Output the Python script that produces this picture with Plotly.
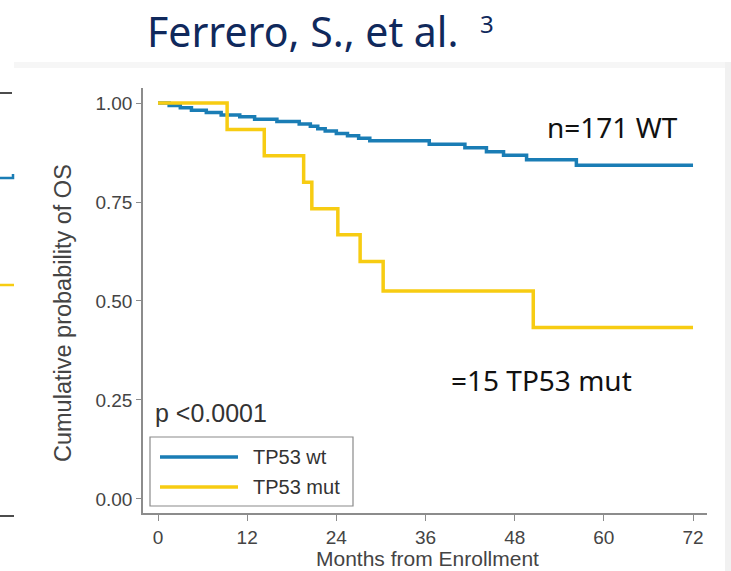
import plotly.graph_objects as go

# ---------------- data ----------------
wt_months = [0, 1.5, 3, 4.5, 6.5, 8.5, 11, 13, 16, 19, 20.5, 21.5, 22.5, 24, 25.5, 27, 28.5,
             36.5, 41.3, 44.2, 46.5, 49.6, 56.3, 72]
wt_surv = [1.0, 0.994, 0.988, 0.982, 0.976, 0.970, 0.965, 0.959, 0.953, 0.947, 0.941, 0.935,
           0.929, 0.923, 0.917, 0.911, 0.905, 0.896, 0.887, 0.877, 0.868, 0.857, 0.843, 0.843]

mut_months = [0, 9.3, 14.3, 19.6, 20.7, 24.2, 27.2, 30.3, 50.5, 72]
mut_surv = [1.0, 0.933, 0.867, 0.800, 0.733, 0.667, 0.600, 0.525, 0.433, 0.433]

series_names = ["TP53 wt", "TP53 mut"]
y_ticks = [0, 0.25, 0.5, 0.75, 1.0]
y_ticktext = ["0.00", "0.25", "0.50", "0.75", "1.00"]
x_ticks = [0, 12, 24, 36, 48, 60, 72]

# ---------------- style ----------------
BLUE = "#1a7db5"
YELLOW = "#f7cc12"
AXIS = "#8c8c8c"
TXT = "#444444"
FONT = "Liberation Sans, Arial, sans-serif"

W, H = 731, 571
L, R, T, B = 143, 707, 88, 513


def px(x):
    return (x - L) / (R - L)


def py(y):
    return (B - y) / (B - T)


fig = go.Figure()
fig.add_trace(go.Scatter(x=wt_months, y=wt_surv, mode="lines", name=series_names[0],
                         line=dict(color=BLUE, width=3.5, shape="hv"), showlegend=False))
fig.add_trace(go.Scatter(x=mut_months, y=mut_surv, mode="lines", name=series_names[1],
                         line=dict(color=YELLOW, width=3.5, shape="hv"), showlegend=False))

fig.update_layout(
    width=W, height=H,
    margin=dict(l=L, r=W - R, t=T, b=H - B, pad=0),
    paper_bgcolor="white", plot_bgcolor="white",
    font=dict(family=FONT, color=TXT),
)
fig.update_xaxes(range=[-2.02, 73.88], tickvals=x_ticks, showgrid=False, zeroline=False,
                 showline=True, linecolor=AXIS, linewidth=1.5, ticks="outside", ticklen=6,
                 tickcolor=AXIS, tickwidth=1.2, tickfont=dict(size=19, color=TXT, family=FONT))
fig.update_yaxes(range=[-0.0354, 1.0379], tickvals=y_ticks, ticktext=y_ticktext, showgrid=False,
                 zeroline=False, showline=True, linecolor=AXIS, linewidth=1.5, ticks="outside",
                 ticklen=5, tickcolor=AXIS, tickwidth=1.2,
                 tickfont=dict(size=19, color=TXT, family=FONT))

shapes = []
anns = []

# faint frame of the pasted picture
shapes.append(dict(type="rect", xref="paper", yref="paper", x0=px(14), x1=px(731), y0=py(62),
                   y1=py(68), fillcolor="#f6f6f6", line=dict(width=0), layer="below"))
shapes.append(dict(type="rect", xref="paper", yref="paper", x0=px(725), x1=px(731), y0=py(62),
                   y1=py(571), fillcolor="#f1f1f1", line=dict(width=0), layer="below"))

# remnants of the neighbouring chart at the left edge
shapes.append(dict(type="line", xref="paper", yref="paper", x0=px(0), x1=px(12), y0=py(93),
                   y1=py(93), line=dict(color="#111", width=1.5)))
shapes.append(dict(type="path", xref="paper", yref="paper",
                   path=f"M{px(0)},{py(178)} L{px(13)},{py(178)} L{px(13)},{py(174)}",
                   line=dict(color=BLUE, width=2.5)))
shapes.append(dict(type="line", xref="paper", yref="paper", x0=px(0), x1=px(14), y0=py(285),
                   y1=py(285), line=dict(color=YELLOW, width=2.5)))
shapes.append(dict(type="line", xref="paper", yref="paper", x0=px(0), x1=px(14), y0=py(516),
                   y1=py(516), line=dict(color="#111", width=1.5)))

# legend box
shapes.append(dict(type="rect", xref="paper", yref="paper", x0=px(150), x1=px(353), y0=py(506),
                   y1=py(437), line=dict(color="#8a8a8a", width=1.2), fillcolor="white"))
for i, (nm, col) in enumerate(zip(series_names, [BLUE, YELLOW])):
    yy = 457 + 30 * i
    shapes.append(dict(type="line", xref="paper", yref="paper", x0=px(160), x1=px(238),
                       y0=py(yy), y1=py(yy), line=dict(color=col, width=3.5)))
    anns.append(dict(text=nm, xref="paper", yref="paper", x=px(251), y=py(yy), xanchor="left",
                     yanchor="middle", showarrow=False, font=dict(size=20, color="#333",
                                                                  family=FONT)))

# title
anns.append(dict(text="Ferrero, S., et al.", xref="paper", yref="paper",
                 x=px(145), y=py(31), xanchor="left", yanchor="middle", showarrow=False,
                 font=dict(size=41, color="#10295c", family="Noto Sans")))
anns.append(dict(text="3", xref="paper", yref="paper",
                 x=px(487), y=py(24), xanchor="center", yanchor="middle", showarrow=False,
                 font=dict(size=24, color="#10295c", family="Noto Sans")))
# axis titles
anns.append(dict(text="Cumulative probability of OS", xref="paper", yref="paper", x=px(63),
                 y=py(313), xanchor="center", yanchor="middle", textangle=-90, showarrow=False,
                 font=dict(size=23.5, color=TXT, family=FONT)))
anns.append(dict(text="Months from Enrollment", xref="paper", yref="paper", x=px(427),
                 y=py(558), xanchor="center", yanchor="middle", showarrow=False,
                 font=dict(size=21, color=TXT, family=FONT)))
# p value
anns.append(dict(text="p <0.0001", xref="paper", yref="paper", x=px(153), y=py(413),
                 xanchor="left", yanchor="middle", showarrow=False,
                 font=dict(size=25, color="#333", family=FONT)))
# group labels
anns.append(dict(text="n=171 WT", xref="paper", yref="paper", x=px(612), y=py(127),
                 xanchor="center", yanchor="middle", showarrow=False,
                 font=dict(size=28, color="#111", family="Noto Sans")))
anns.append(dict(text="=15 TP53 mut", xref="paper", yref="paper", x=px(541), y=py(380),
                 xanchor="center", yanchor="middle", showarrow=False,
                 font=dict(size=28, color="#111", family="Noto Sans")))

fig.update_layout(shapes=shapes, annotations=anns)
fig.write_html("out.html")
